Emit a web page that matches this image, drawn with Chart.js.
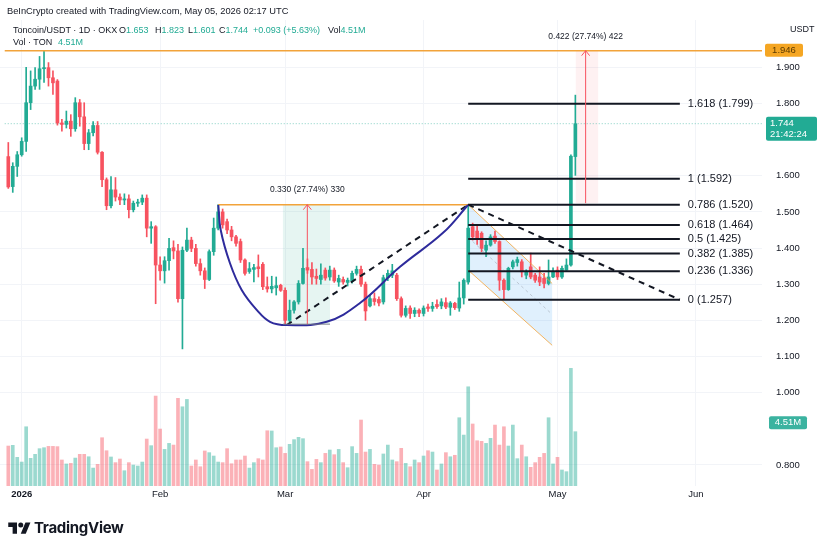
<!DOCTYPE html>
<html lang="en">
<head>
    <meta charset="UTF-8">
    <title>Toncoin/USDT</title>
    <script src="https://cdn.jsdelivr.net/npm/chart.js"></script>
    <style>
        html, body { margin: 0; padding: 0; background: #ffffff; }
        body { width: 828px; height: 549px; position: relative; overflow: hidden;
               font-family: "Liberation Sans", Arial, sans-serif; color: #131722; }
        #grafico { position: absolute; left: 0; top: 0; }
        .linha { position: absolute; white-space: nowrap; font-size: 9.3px; line-height: 12px; }
        .v { color: #22ab94; }
        #logo { position: absolute; left: 8px; top: 518px; height: 18px; display: flex; align-items: center; }
        #logo span { font-family: Inter, "Liberation Sans", sans-serif; font-weight: 700; font-size: 15px; margin-left: 3px; letter-spacing: -0.3px; color: #131722; }
    </style>
</head>
<body>

    <canvas id="grafico" width="828" height="549"></canvas>

    <div class="linha" style="left:7px; top:5px;">BeInCrypto created with TradingView.com, May 05, 2026 02:17 UTC</div>
    <div class="linha" style="left:13px; top:24px; font-size:9px;">Toncoin/USDT · 1D · OKX</div>
    <div class="linha" style="left:119px; top:24px; font-size:9px;">O<span class="v">1.653</span></div>
    <div class="linha" style="left:155px; top:24px; font-size:9px;">H<span class="v">1.823</span></div>
    <div class="linha" style="left:188px; top:24px; font-size:9px;">L<span class="v">1.601</span></div>
    <div class="linha" style="left:219px; top:24px; font-size:9px;">C<span class="v">1.744</span></div>
    <div class="linha v" style="left:253px; top:24px; font-size:9px;">+0.093 (+5.63%)</div>
    <div class="linha" style="left:328px; top:24px; font-size:9px;">Vol<span class="v">4.51M</span></div>
    <div class="linha" style="left:13px; top:36px; font-size:9px;">Vol · TON</div>
    <div class="linha v" style="left:58px; top:36px; font-size:9px;">4.51M</div>

    <div id="logo">
        <svg width="23" height="15" viewBox="0 0 36 24">
            <path d="M14 22H7V11H0V4h14v18z" fill="#131722"/>
            <circle cx="20" cy="8" r="4" fill="#131722"/>
            <path d="M28 22h-8l7.5-18h8L28 22z" fill="#131722"/>
        </svg>
        <span>TradingView</span>
    </div>

</body>
</html>

<script>

// candles diarios, indice 0 = 29/12/2025 ... indice 127 = 05/05/2026
var aberturas = [
    1.653,1.570,1.626,1.658,1.695,1.802,1.848,1.867,1.896,1.899,
    1.871,1.862,1.746,1.742,1.751,1.730,1.802,1.763,1.689,1.719,
    1.739,1.665,1.589,1.517,1.561,1.541,1.533,1.536,1.506,1.524,
    1.527,1.538,1.455,1.459,1.353,1.337,1.365,1.401,1.392,1.260,
    1.394,1.422,1.399,1.357,1.337,1.313,1.390,1.455,1.500,1.473,
    1.450,1.431,1.418,1.367,1.335,1.341,1.348,1.355,1.293,1.287,
    1.290,1.297,1.283,1.200,1.228,1.251,1.302,1.346,1.341,1.322,
    1.313,1.339,1.320,1.339,1.306,1.313,1.305,1.308,1.330,1.341,
    1.300,1.240,1.260,1.258,1.251,1.318,1.325,1.325,1.260,1.214,
    1.234,1.219,1.228,1.219,1.237,1.233,1.244,1.240,1.249,1.236,
    1.247,1.234,1.262,1.306,1.459,1.447,1.441,1.394,1.408,1.433,
    1.418,1.311,1.285,1.348,1.360,1.362,1.325,1.348,1.325,1.320,
    1.316,1.302,1.320,1.339,1.320,1.339,1.353,1.653
];

var maximas = [
    1.692,1.636,1.667,1.705,1.900,1.890,1.899,1.930,1.946,1.913,
    1.890,1.866,1.756,1.779,1.769,1.816,1.811,1.802,1.728,1.750,
    1.750,1.667,1.594,1.598,1.595,1.550,1.550,1.547,1.530,1.535,
    1.547,1.547,1.473,1.462,1.376,1.376,1.427,1.420,1.410,1.403,
    1.455,1.430,1.410,1.370,1.345,1.395,1.483,1.520,1.508,1.480,
    1.460,1.435,1.425,1.370,1.360,1.355,1.381,1.360,1.320,1.322,
    1.320,1.300,1.290,1.256,1.255,1.310,1.399,1.370,1.360,1.342,
    1.356,1.345,1.350,1.345,1.325,1.320,1.317,1.336,1.350,1.350,
    1.306,1.270,1.276,1.265,1.325,1.339,1.355,1.330,1.265,1.240,
    1.240,1.235,1.232,1.240,1.245,1.250,1.257,1.260,1.262,1.252,
    1.250,1.306,1.315,1.520,1.469,1.460,1.445,1.420,1.437,1.447,
    1.420,1.315,1.347,1.367,1.375,1.368,1.340,1.386,1.330,1.348,
    1.330,1.367,1.345,1.348,1.350,1.370,1.658,1.823
];

var minimas = [
    1.565,1.554,1.598,1.654,1.667,1.783,1.839,1.839,1.858,1.848,
    1.825,1.740,1.723,1.732,1.709,1.723,1.737,1.672,1.672,1.710,
    1.660,1.570,1.506,1.511,1.530,1.520,1.520,1.483,1.500,1.515,
    1.520,1.431,1.413,1.246,1.311,1.303,1.339,1.370,1.250,1.121,
    1.390,1.390,1.350,1.325,1.288,1.310,1.380,1.450,1.455,1.440,
    1.420,1.405,1.360,1.325,1.330,1.306,1.320,1.285,1.278,1.276,
    1.270,1.280,1.186,1.195,1.220,1.245,1.300,1.330,1.300,1.300,
    1.300,1.311,1.311,1.305,1.294,1.300,1.295,1.303,1.325,1.294,
    1.200,1.237,1.242,1.240,1.245,1.310,1.318,1.255,1.209,1.209,
    1.205,1.210,1.210,1.212,1.225,1.225,1.233,1.232,1.232,1.214,
    1.230,1.225,1.245,1.300,1.422,1.410,1.390,1.376,1.405,1.413,
    1.283,1.258,1.283,1.342,1.350,1.320,1.315,1.315,1.305,1.296,
    1.290,1.298,1.318,1.313,1.316,1.338,1.350,1.601
];

var fechamentos = [
    1.569,1.626,1.658,1.695,1.802,1.848,1.867,1.896,1.899,1.871,
    1.857,1.746,1.742,1.751,1.730,1.802,1.763,1.689,1.719,1.739,
    1.665,1.589,1.517,1.561,1.541,1.533,1.536,1.506,1.524,1.527,
    1.538,1.455,1.459,1.353,1.337,1.365,1.399,1.392,1.260,1.394,
    1.422,1.399,1.357,1.337,1.313,1.390,1.455,1.500,1.464,1.450,
    1.431,1.413,1.367,1.330,1.343,1.346,1.343,1.293,1.287,1.294,
    1.296,1.283,1.200,1.228,1.251,1.302,1.344,1.339,1.320,1.316,
    1.325,1.317,1.339,1.309,1.316,1.306,1.311,1.330,1.341,1.300,
    1.226,1.260,1.252,1.248,1.318,1.330,1.337,1.260,1.214,1.233,
    1.219,1.228,1.220,1.234,1.233,1.239,1.238,1.251,1.237,1.248,
    1.235,1.262,1.311,1.455,1.431,1.427,1.399,1.408,1.431,1.418,
    1.311,1.285,1.344,1.362,1.368,1.334,1.334,1.320,1.311,1.306,
    1.302,1.320,1.334,1.320,1.344,1.353,1.654,1.744
];

// volume em milhoes de TON
var volumes = [
    3.32,3.38,2.38,1.99,4.92,2.30,2.63,3.10,3.18,3.29,
    3.29,3.27,2.16,1.83,1.88,2.32,2.63,2.63,2.43,1.49,
    1.80,4.01,2.93,2.41,1.94,2.24,1.27,1.94,1.74,1.66,
    1.99,3.90,3.35,7.47,4.73,3.04,3.54,3.40,7.28,6.58,
    7.19,1.66,2.16,1.60,2.91,2.77,2.49,1.99,1.94,3.10,
    1.85,2.16,2.16,2.49,1.49,1.94,2.27,2.16,4.59,4.57,
    3.18,3.24,2.71,3.46,3.85,4.04,3.93,2.02,1.38,2.21,
    1.94,2.71,2.99,2.60,3.04,1.94,1.52,3.27,2.71,5.48,
    2.82,3.04,1.80,1.74,2.66,3.40,2.16,2.02,3.13,1.88,
    1.60,2.16,1.94,2.49,2.93,2.82,1.33,1.83,2.77,2.43,
    2.55,5.67,4.23,8.24,5.15,3.76,3.71,3.54,3.96,5.06,
    3.40,4.92,3.32,5.06,2.27,3.40,2.43,1.55,1.94,2.38,
    2.71,5.67,1.83,2.38,1.33,1.19,9.77,4.51
];

var mesesPos = [3, 34, 62, 93, 123, 154];
var mesesNomes = ['2026', 'Feb', 'Mar', 'Apr', 'May', 'Jun'];
var precosTicks = [0.8, 1.0, 1.1, 1.2, 1.3, 1.4, 1.5, 1.6, 1.8, 1.9];

// fibonacci
var fibNiveis = [1.799, 1.592, 1.520, 1.464, 1.425, 1.385, 1.336, 1.257];
var fibNomes = ['1.618 (1.799)', '1 (1.592)', '0.786 (1.520)', '0.618 (1.464)', '0.5 (1.425)', '0.382 (1.385)', '0.236 (1.336)', '0 (1.257)'];
var fibX = [103, 150.4];

// desenhos
var xicaraX = [47.03, 47.57, 49.65, 52.27, 55.63, 58.61, 62.35, 71.31, 78.77, 87.73, 97.36, 102.95];
var xicaraY = [1.519, 1.450, 1.358, 1.284, 1.229, 1.196, 1.187, 1.196, 1.248, 1.348, 1.442, 1.519];
var tracejadaSobeX = [62.35, 103];
var tracejadaSobeY = [1.187, 1.520];
var tracejadaDesceX = [103, 150.4];
var tracejadaDesceY = [1.520, 1.257];
var canalX = [103, 121.8];
var canalTopo = [1.520, 1.302];
var canalBase = [1.339, 1.131];
var topoX = [-0.8, 168.8];
var topoPreco = 1.946;
var resistenciaX = [47, 103];
var resistenciaPreco = 1.520;
var precoAtual = 1.744;

var medida1X = [61.5, 72.05];
var medida1Precos = [1.189, 1.520];
var medida1Seta = 66.97;
var medida1Texto = '0.330 (27.74%) 330';
var medida2X = [127.1, 132.1];
var medida2Precos = [1.524, 1.946];
var medida2Seta = 129.3;
var medida2Texto = '0.422 (27.74%) 422';

var FONTE = '"Liberation Sans", Arial, sans-serif';

function pares(xs, ys) {
    return xs.map(function (x, i) { return { x: x, y: ys[i] }; });
}

function caixa(c, x, y, w, h, cor) {
    c.fillStyle = cor;
    c.beginPath();
    c.roundRect(x, y, w, h, 2);
    c.fill();
}

function seta(c, x, y1, y2) {
    c.strokeStyle = '#f7525f';
    c.lineWidth = 1;
    c.beginPath();
    c.moveTo(x, y1);
    c.lineTo(x, y2);
    c.moveTo(x - 4, y2 + 5);
    c.lineTo(x, y2);
    c.lineTo(x + 4, y2 + 5);
    c.stroke();
}

var desenhos = {
    id: 'desenhos',
    beforeDatasetsDraw: function (chart) {
        var c = chart.ctx, sx = chart.scales.x, sy = chart.scales.y;
        c.save();

        c.fillStyle = 'rgba(33,150,243,0.14)';
        c.beginPath();
        c.moveTo(sx.getPixelForValue(canalX[0]), sy.getPixelForValue(canalTopo[0]));
        c.lineTo(sx.getPixelForValue(canalX[1]), sy.getPixelForValue(canalTopo[1]));
        c.lineTo(sx.getPixelForValue(canalX[1]), sy.getPixelForValue(canalBase[1]));
        c.lineTo(sx.getPixelForValue(canalX[0]), sy.getPixelForValue(canalBase[0]));
        c.closePath();
        c.fill();

        var a = sx.getPixelForValue(medida1X[0]), b = sx.getPixelForValue(medida1X[1]);
        var t = sy.getPixelForValue(medida1Precos[1]), f = sy.getPixelForValue(medida1Precos[0]);
        c.fillStyle = 'rgba(8,153,129,0.10)';
        c.fillRect(a, t, b - a, f - t);

        a = sx.getPixelForValue(medida2X[0]); b = sx.getPixelForValue(medida2X[1]);
        t = sy.getPixelForValue(medida2Precos[1]); f = sy.getPixelForValue(medida2Precos[0]);
        c.fillStyle = 'rgba(242,54,69,0.07)';
        c.fillRect(a, t, b - a, f - t);

        c.restore();
    },
    afterDatasetsDraw: function (chart) {
        var c = chart.ctx, sx = chart.scales.x, sy = chart.scales.y;
        c.save();
        seta(c, sx.getPixelForValue(medida1Seta), sy.getPixelForValue(medida1Precos[0]), sy.getPixelForValue(medida1Precos[1]));
        seta(c, sx.getPixelForValue(medida2Seta), sy.getPixelForValue(medida2Precos[0]), sy.getPixelForValue(medida2Precos[1]));

        c.strokeStyle = 'rgba(120,123,134,0.6)';
        c.lineWidth = 1.5;
        c.beginPath();
        c.moveTo(sx.getPixelForValue(medida1X[0]), sy.getPixelForValue(medida1Precos[0]));
        c.lineTo(sx.getPixelForValue(medida1X[1]), sy.getPixelForValue(medida1Precos[0]));
        c.stroke();
        c.restore();
    },
    afterDraw: function (chart) {
        var c = chart.ctx, sx = chart.scales.x, sy = chart.scales.y, sv = chart.scales.yv;
        c.save();

        // rotulos fibonacci
        c.fillStyle = '#131722';
        c.font = '11px ' + FONTE;
        c.textAlign = 'left';
        c.textBaseline = 'middle';
        var xf = sx.getPixelForValue(fibX[1]) + 8;
        fibNiveis.forEach(function (n, i) {
            c.fillText(fibNomes[i], xf, sy.getPixelForValue(n));
        });

        // rotulos das medidas
        c.font = '8.5px ' + FONTE;
        c.textAlign = 'center';
        c.fillText(medida1Texto, sx.getPixelForValue(medida1Seta), sy.getPixelForValue(medida1Precos[1]) - 15);
        c.fillText(medida2Texto, sx.getPixelForValue(medida2Seta), sy.getPixelForValue(medida2Precos[1]) - 14);

        // escala de precos
        var xe = chart.chartArea.right;
        c.font = '9px ' + FONTE;
        c.textAlign = 'left';
        c.fillText('USDT', xe + 28, 30);

        var yt = sy.getPixelForValue(topoPreco);
        caixa(c, xe + 3, yt - 7, 38, 13, '#f5a623');
        c.fillStyle = '#5a3a00';
        c.font = '9.5px ' + FONTE;
        c.textAlign = 'center';
        c.fillText(topoPreco.toFixed(3), xe + 22, yt);

        var ya = sy.getPixelForValue(precoAtual);
        caixa(c, xe + 4, ya - 7, 51, 24, '#22ab94');
        c.fillStyle = '#ffffff';
        c.textAlign = 'left';
        c.fillText(precoAtual.toFixed(3), xe + 8, ya);
        c.fillText('21:42:24', xe + 8, ya + 11);

        var yv = sv.getPixelForValue(volumes[volumes.length - 1]) - 9;
        caixa(c, xe + 7, yv - 6.5, 38, 13, '#3bb3a0');
        c.fillStyle = '#ffffff';
        c.textAlign = 'center';
        c.fillText('4.51M', xe + 26, yv);

        c.restore();
    }
};

criar();

function criar() {

    var ctx = document.getElementById('grafico');

    var indices = aberturas.map(function (v, i) { return i; });
    var sobe = function (i) { return fechamentos[i] >= aberturas[i]; };
    var corCandle = indices.map(function (i) { return sobe(i) ? '#22ab94' : '#f7525f'; });
    var corVolume = indices.map(function (i) { return sobe(i) ? 'rgba(34,171,148,0.45)' : 'rgba(247,82,95,0.45)'; });

    var linha = function (dados, cor, largura, tracos, ordem, tensao) {
        return {
            type: 'line',
            data: dados,
            borderColor: cor,
            borderWidth: largura,
            borderDash: tracos || [],
            pointRadius: 0,
            fill: false,
            tension: tensao || 0,
            order: ordem,
            yAxisID: 'y'
        };
    };

    var conjuntos = [
        {
            type: 'bar',
            data: indices.map(function (i) { return { x: i, y: volumes[i] }; }),
            backgroundColor: corVolume,
            barThickness: 3,
            grouped: false,
            yAxisID: 'yv',
            order: 10
        },
        {
            type: 'bar',
            data: indices.map(function (i) { return { x: i, y: [minimas[i], maximas[i]] }; }),
            backgroundColor: corCandle,
            barThickness: 1,
            grouped: false,
            yAxisID: 'y',
            order: 6
        },
        {
            type: 'bar',
            data: indices.map(function (i) { return { x: i, y: [aberturas[i], fechamentos[i]] }; }),
            backgroundColor: corCandle,
            barThickness: 3,
            minBarLength: 1,
            grouped: false,
            yAxisID: 'y',
            order: 5
        },
        linha(pares(topoX, [precoAtual, precoAtual]), 'rgba(34,171,148,0.55)', 1, [1, 2], 7),
        linha(pares(topoX, [topoPreco, topoPreco]), '#f2a33a', 1.5, null, 2),
        linha(pares(resistenciaX, [resistenciaPreco, resistenciaPreco]), '#f2a33a', 1.5, null, 2),
        linha(pares(canalX, canalTopo), 'rgba(242,163,58,0.8)', 1, null, 3),
        linha(pares(canalX, canalBase), 'rgba(242,163,58,0.8)', 1, null, 3),
        linha(pares(canalX, [(canalTopo[0] + canalBase[0]) / 2, (canalTopo[1] + canalBase[1]) / 2]), 'rgba(120,123,134,0.35)', 1, [3, 3], 3),
        linha(pares(xicaraX, xicaraY), '#2e2b9c', 2, null, 1, 0.4),
        linha(pares(tracejadaSobeX, tracejadaSobeY), '#131722', 2, [6, 5], 1),
        linha(pares(tracejadaDesceX, tracejadaDesceY), '#131722', 2, [6, 5], 1)
    ];

    fibNiveis.forEach(function (n) {
        conjuntos.push(linha(pares(fibX, [n, n]), '#131722', 2, null, 1));
    });

    new Chart(ctx, {
        type: 'bar',
        data: { datasets: conjuntos },
        options: {
            responsive: false,
            animation: false,
            devicePixelRatio: 1,
            layout: { padding: { top: 20, left: 0, right: 0, bottom: 0 } },
            plugins: {
                legend: { display: false },
                tooltip: { enabled: false }
            },
            scales: {
                x: {
                    type: 'linear',
                    min: -1.86,
                    max: 168.8,
                    offset: false,
                    border: { display: false },
                    grid: { color: '#f2f4f8', drawTicks: false, offset: false },
                    afterBuildTicks: function (s) {
                        s.ticks = mesesPos.map(function (v) { return { value: v }; });
                    },
                    afterFit: function (s) { s.height = 63; },
                    ticks: {
                        autoSkip: false,
                        maxRotation: 0,
                        padding: 3,
                        color: '#131722',
                        font: function (c) {
                            return { family: FONTE, size: 9.5, weight: (c.tick && c.tick.value === mesesPos[0]) ? 'bold' : 'normal' };
                        },
                        callback: function (v) { return mesesNomes[mesesPos.indexOf(v)]; }
                    }
                },
                y: {
                    position: 'right',
                    min: 0.7418,
                    max: 2.0308,
                    border: { display: false },
                    grid: { color: '#f2f4f8', drawTicks: false },
                    afterBuildTicks: function (s) {
                        s.ticks = precosTicks.map(function (v) { return { value: v }; });
                    },
                    afterFit: function (s) { s.width = 66; },
                    ticks: {
                        padding: 14,
                        color: '#131722',
                        font: { family: FONTE, size: 9.5 },
                        callback: function (v) { return v.toFixed(3); }
                    }
                },
                yv: {
                    display: false,
                    min: 0,
                    max: 38.7
                }
            }
        },
        plugins: [desenhos]
    });
}
</script>
